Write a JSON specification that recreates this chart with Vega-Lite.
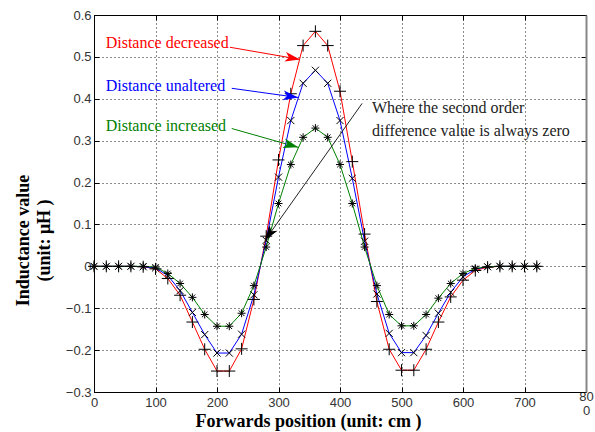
{
  "$schema": "https://vega.github.io/schema/vega-lite/v6.json",
  "width": 492,
  "height": 377,
  "autosize": "none",
  "padding": {"left": 94, "top": 15, "right": 9, "bottom": 40},
  "background": "white",
  "config": {
    "view": {"stroke": "black", "strokeWidth": 1},
    "font": "Liberation Serif",
    "axis": {
      "domainColor": "black",
      "tickColor": "black",
      "labelFont": "Liberation Sans",
      "labelFontSize": 13,
      "labelColor": "#333",
      "titleFont": "Liberation Serif",
      "titleFontWeight": "bold",
      "titleFontSize": 18,
      "titleColor": "black"
    }
  },
  "resolve": {"axis": {"x": "independent", "y": "independent"}},
  "datasets": {
    "curves": [
      {"x": 0, "v": 0, "series": "decreased"},
      {"x": 20, "v": 0, "series": "decreased"},
      {"x": 40, "v": 0, "series": "decreased"},
      {"x": 60, "v": 0, "series": "decreased"},
      {"x": 80, "v": -0.001, "series": "decreased"},
      {"x": 100, "v": -0.006, "series": "decreased"},
      {"x": 120, "v": -0.029, "series": "decreased"},
      {"x": 140, "v": -0.069, "series": "decreased"},
      {"x": 160, "v": -0.133, "series": "decreased"},
      {"x": 180, "v": -0.198, "series": "decreased"},
      {"x": 200, "v": -0.25, "series": "decreased"},
      {"x": 220, "v": -0.25, "series": "decreased"},
      {"x": 240, "v": -0.197, "series": "decreased"},
      {"x": 260, "v": -0.079, "series": "decreased"},
      {"x": 280, "v": 0.072, "series": "decreased"},
      {"x": 300, "v": 0.254, "series": "decreased"},
      {"x": 320, "v": 0.412, "series": "decreased"},
      {"x": 340, "v": 0.527, "series": "decreased"},
      {"x": 360, "v": 0.561, "series": "decreased"},
      {"x": 380, "v": 0.527, "series": "decreased"},
      {"x": 400, "v": 0.418, "series": "decreased"},
      {"x": 420, "v": 0.25, "series": "decreased"},
      {"x": 440, "v": 0.077, "series": "decreased"},
      {"x": 460, "v": -0.084, "series": "decreased"},
      {"x": 480, "v": -0.198, "series": "decreased"},
      {"x": 500, "v": -0.248, "series": "decreased"},
      {"x": 520, "v": -0.248, "series": "decreased"},
      {"x": 540, "v": -0.198, "series": "decreased"},
      {"x": 560, "v": -0.133, "series": "decreased"},
      {"x": 580, "v": -0.073, "series": "decreased"},
      {"x": 600, "v": -0.033, "series": "decreased"},
      {"x": 620, "v": -0.01, "series": "decreased"},
      {"x": 640, "v": -0.002, "series": "decreased"},
      {"x": 660, "v": 0, "series": "decreased"},
      {"x": 680, "v": 0, "series": "decreased"},
      {"x": 700, "v": 0, "series": "decreased"},
      {"x": 720, "v": 0, "series": "decreased"},
      {"x": 0, "v": 0, "series": "unaltered"},
      {"x": 20, "v": 0, "series": "unaltered"},
      {"x": 40, "v": 0, "series": "unaltered"},
      {"x": 60, "v": 0, "series": "unaltered"},
      {"x": 80, "v": -0.001, "series": "unaltered"},
      {"x": 100, "v": -0.004, "series": "unaltered"},
      {"x": 120, "v": -0.022, "series": "unaltered"},
      {"x": 140, "v": -0.058, "series": "unaltered"},
      {"x": 160, "v": -0.11, "series": "unaltered"},
      {"x": 180, "v": -0.163, "series": "unaltered"},
      {"x": 200, "v": -0.207, "series": "unaltered"},
      {"x": 220, "v": -0.207, "series": "unaltered"},
      {"x": 240, "v": -0.162, "series": "unaltered"},
      {"x": 260, "v": -0.068, "series": "unaltered"},
      {"x": 280, "v": 0.062, "series": "unaltered"},
      {"x": 300, "v": 0.213, "series": "unaltered"},
      {"x": 320, "v": 0.348, "series": "unaltered"},
      {"x": 340, "v": 0.437, "series": "unaltered"},
      {"x": 360, "v": 0.468, "series": "unaltered"},
      {"x": 380, "v": 0.437, "series": "unaltered"},
      {"x": 400, "v": 0.348, "series": "unaltered"},
      {"x": 420, "v": 0.21, "series": "unaltered"},
      {"x": 440, "v": 0.06, "series": "unaltered"},
      {"x": 460, "v": -0.066, "series": "unaltered"},
      {"x": 480, "v": -0.16, "series": "unaltered"},
      {"x": 500, "v": -0.206, "series": "unaltered"},
      {"x": 520, "v": -0.206, "series": "unaltered"},
      {"x": 540, "v": -0.165, "series": "unaltered"},
      {"x": 560, "v": -0.112, "series": "unaltered"},
      {"x": 580, "v": -0.062, "series": "unaltered"},
      {"x": 600, "v": -0.025, "series": "unaltered"},
      {"x": 620, "v": -0.007, "series": "unaltered"},
      {"x": 640, "v": -0.001, "series": "unaltered"},
      {"x": 660, "v": 0, "series": "unaltered"},
      {"x": 680, "v": 0, "series": "unaltered"},
      {"x": 700, "v": 0, "series": "unaltered"},
      {"x": 720, "v": 0, "series": "unaltered"},
      {"x": 0, "v": 0, "series": "increased"},
      {"x": 20, "v": 0, "series": "increased"},
      {"x": 40, "v": 0, "series": "increased"},
      {"x": 60, "v": 0, "series": "increased"},
      {"x": 80, "v": 0, "series": "increased"},
      {"x": 100, "v": -0.002, "series": "increased"},
      {"x": 120, "v": -0.017, "series": "increased"},
      {"x": 140, "v": -0.041, "series": "increased"},
      {"x": 160, "v": -0.074, "series": "increased"},
      {"x": 180, "v": -0.115, "series": "increased"},
      {"x": 200, "v": -0.143, "series": "increased"},
      {"x": 220, "v": -0.143, "series": "increased"},
      {"x": 240, "v": -0.112, "series": "increased"},
      {"x": 260, "v": -0.046, "series": "increased"},
      {"x": 280, "v": 0.046, "series": "increased"},
      {"x": 300, "v": 0.15, "series": "increased"},
      {"x": 320, "v": 0.243, "series": "increased"},
      {"x": 340, "v": 0.308, "series": "increased"},
      {"x": 360, "v": 0.33, "series": "increased"},
      {"x": 380, "v": 0.308, "series": "increased"},
      {"x": 400, "v": 0.243, "series": "increased"},
      {"x": 420, "v": 0.15, "series": "increased"},
      {"x": 440, "v": 0.046, "series": "increased"},
      {"x": 460, "v": -0.046, "series": "increased"},
      {"x": 480, "v": -0.115, "series": "increased"},
      {"x": 500, "v": -0.142, "series": "increased"},
      {"x": 520, "v": -0.142, "series": "increased"},
      {"x": 540, "v": -0.115, "series": "increased"},
      {"x": 560, "v": -0.076, "series": "increased"},
      {"x": 580, "v": -0.041, "series": "increased"},
      {"x": 600, "v": -0.017, "series": "increased"},
      {"x": 620, "v": -0.005, "series": "increased"},
      {"x": 640, "v": -0.001, "series": "increased"},
      {"x": 660, "v": 0, "series": "increased"},
      {"x": 680, "v": 0, "series": "increased"},
      {"x": 700, "v": 0, "series": "increased"},
      {"x": 720, "v": 0, "series": "increased"}
    ],
    "arrows": [
      {"series": "decreased", "x": 221, "y": 0.523, "x2": 335, "y2": 0.494},
      {"series": "unaltered", "x": 224, "y": 0.425, "x2": 332, "y2": 0.403},
      {"series": "increased", "x": 224, "y": 0.329, "x2": 332, "y2": 0.284},
      {"series": "note", "x": 436, "y": 0.389, "x2": 278, "y2": 0.062}
    ],
    "texts": [
      {"series": "decreased", "x": 19, "y": 0.534, "text": "Distance decreased"},
      {"series": "unaltered", "x": 19, "y": 0.43, "text": "Distance unaltered"},
      {"series": "increased", "x": 19, "y": 0.334, "text": "Distance increased"},
      {"series": "note", "x": 452, "y": 0.379, "text": "Where the second order"},
      {"series": "note", "x": 452, "y": 0.322, "text": "difference value is always zero"}
    ]
  },
  "layer": [
    {
      "data": {"name": "curves"},
      "mark": {"type": "line", "opacity": 0},
      "encoding": {
        "x": {
          "field": "x", "type": "quantitative",
          "scale": {"domain": [0, 800], "nice": false, "zero": false},
          "axis": {"orient": "top", "values": [0, 100, 200, 300, 400, 500, 600, 700, 800], "labels": false, "title": null, "grid": false, "tickSize": -5, "domainColor": "black"}
        },
        "y": {
          "field": "v", "type": "quantitative",
          "scale": {"domain": [-0.3, 0.6], "nice": false, "zero": false},
          "axis": {"orient": "right", "values": [-0.3, -0.2, -0.1, 0, 0.1, 0.2, 0.3, 0.4, 0.5, 0.6], "labels": false, "title": null, "grid": false, "tickSize": -5, "domainColor": "#888888", "domainWidth": 2}
        },
        "detail": {"field": "series"}
      }
    },
    {
      "data": {"name": "curves"},
      "mark": {"type": "line", "strokeWidth": 1},
      "encoding": {
        "x": {
          "field": "x", "type": "quantitative",
          "axis": {
            "values": [0, 100, 200, 300, 400, 500, 600, 700, 800],
            "title": "Forwards position (unit: cm )",
            "titleX": 214, "titleY": 34, "titleBaseline": "alphabetic", "titleAlign": "center",
            "tickSize": -5, "labelPadding": 9,
            "grid": true, "gridColor": "black", "gridDash": [1, 3], "gridOpacity": 0.9,
            "labelExpr": "datum.value == 800 ? ['80', '0'] : datum.label",
            "labelBaseline": {"condition": {"test": "datum.value == 800", "value": "middle"}, "value": "top"},
            "labelLineHeight": 14,
            "labelFlush": false,
            "labelOverlap": false
          }
        },
        "y": {
          "field": "v", "type": "quantitative",
          "axis": {
            "values": [-0.3, -0.2, -0.1, 0, 0.1, 0.2, 0.3, 0.4, 0.5, 0.6],
            "format": "~g",
            "title": ["Inductance value", "(unit: μH )"],
            "titleX": -80, "titleY": 225, "titleBaseline": "top", "titleAlign": "center",
            "titleLineHeight": 21,
            "tickSize": -5, "labelPadding": 8,
            "grid": true, "gridColor": "black", "gridDash": [1, 3], "gridOpacity": 0.9,
            "labelFlush": false,
            "labelOverlap": false
          }
        },
        "color": {
          "field": "series", "type": "nominal",
          "scale": {"domain": ["decreased", "unaltered", "increased", "note"], "range": ["#ff0000", "#0000ff", "#008000", "#222222"]},
          "legend": null
        },
        "detail": {"field": "series"}
      }
    },
    {
      "data": {"name": "curves"},
      "mark": {"type": "point", "filled": false, "color": "black", "strokeWidth": 1, "opacity": 1},
      "encoding": {
        "x": {"field": "x", "type": "quantitative", "axis": null},
        "y": {"field": "v", "type": "quantitative", "axis": null},
        "shape": {
          "field": "series", "type": "nominal",
          "scale": {"domain": ["decreased", "unaltered", "increased"], "range": ["M-1,0L1,0M0,-1L0,1", "M-0.7,-0.7L0.7,0.7M-0.7,0.7L0.7,-0.7", "M-1,0L1,0M0,-1L0,1M-0.7,-0.7L0.7,0.7M-0.7,0.7L0.7,-0.7"]},
          "legend": null
        },
        "size": {
          "field": "series", "type": "ordinal",
          "scale": {"domain": ["decreased", "unaltered", "increased"], "range": [144, 64, 100]},
          "legend": null
        }
      }
    },
    {
      "data": {"name": "arrows"},
      "mark": {"type": "rule", "strokeWidth": 1},
      "encoding": {
        "x": {"field": "x", "type": "quantitative", "axis": null},
        "y": {"field": "y", "type": "quantitative", "axis": null},
        "x2": {"field": "x2"},
        "y2": {"field": "y2"},
        "color": {"field": "series", "type": "nominal"}
      }
    },
    {
      "data": {"name": "arrows"},
      "transform": [{"filter": "datum.series == 'decreased'"}],
      "mark": {"type": "point", "filled": true, "opacity": 1, "shape": "M0,0L-2,-0.65L-1.5,0L-2,0.65Z", "size": 225, "angle": 10},
      "encoding": {
        "x": {"field": "x2", "type": "quantitative", "axis": null},
        "y": {"field": "y2", "type": "quantitative", "axis": null},
        "color": {"field": "series", "type": "nominal"}
      }
    },
    {
      "data": {"name": "arrows"},
      "transform": [{"filter": "datum.series == 'unaltered'"}],
      "mark": {"type": "point", "filled": true, "opacity": 1, "shape": "M0,0L-2,-0.65L-1.5,0L-2,0.65Z", "size": 225, "angle": 8},
      "encoding": {
        "x": {"field": "x2", "type": "quantitative", "axis": null},
        "y": {"field": "y2", "type": "quantitative", "axis": null},
        "color": {"field": "series", "type": "nominal"}
      }
    },
    {
      "data": {"name": "arrows"},
      "transform": [{"filter": "datum.series == 'increased'"}],
      "mark": {"type": "point", "filled": true, "opacity": 1, "shape": "M0,0L-2,-0.65L-1.5,0L-2,0.65Z", "size": 225, "angle": 16},
      "encoding": {
        "x": {"field": "x2", "type": "quantitative", "axis": null},
        "y": {"field": "y2", "type": "quantitative", "axis": null},
        "color": {"field": "series", "type": "nominal"}
      }
    },
    {
      "data": {"name": "arrows"},
      "transform": [{"filter": "datum.series == 'note'"}],
      "mark": {"type": "point", "filled": true, "opacity": 1, "shape": "M0,0L-2,-0.65L-1.5,0L-2,0.65Z", "size": 225, "angle": 125},
      "encoding": {
        "x": {"field": "x2", "type": "quantitative", "axis": null},
        "y": {"field": "y2", "type": "quantitative", "axis": null},
        "color": {"value": "black"}
      }
    },
    {
      "data": {"name": "texts"},
      "mark": {"type": "text", "align": "left", "baseline": "middle", "font": "Liberation Serif", "fontSize": 16},
      "encoding": {
        "x": {"field": "x", "type": "quantitative", "axis": null},
        "y": {"field": "y", "type": "quantitative", "axis": null},
        "text": {"field": "text"},
        "color": {"field": "series", "type": "nominal"}
      }
    }
  ]
}
